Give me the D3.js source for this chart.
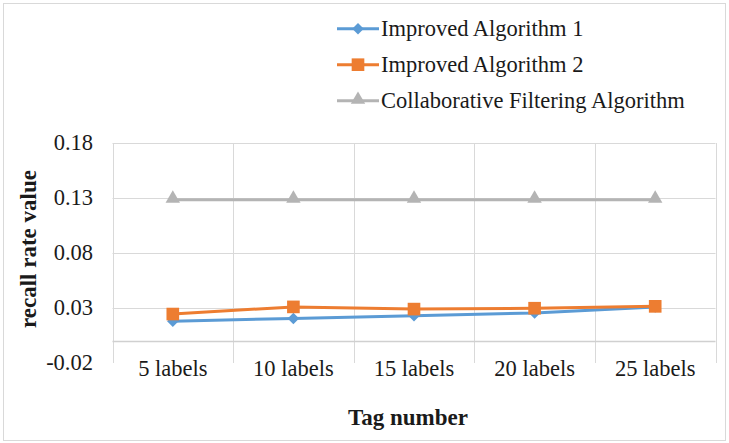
<!DOCTYPE html>
<html>
<head>
<meta charset="utf-8">
<script src="https://cdn.jsdelivr.net/npm/d3@7"></script>
<style>
  html, body { margin: 0; padding: 0; background: #fff; }
  svg { display: block; }
  svg text { font-family: "Liberation Serif", "Times New Roman", Tinos, "DejaVu Serif", serif !important; fill: #1a1a1a; }
</style>
</head>
<body>
<svg id="chart" width="729" height="443"></svg>
<script>
// Recall rate for each tag-count setting
const categories = ["5 labels", "10 labels", "15 labels", "20 labels", "25 labels"];
const improved1 = [0.018, 0.0205, 0.023, 0.0255, 0.031];
const improved2 = [0.0245, 0.031, 0.029, 0.0298, 0.0315];
const collaborative = [0.1285, 0.1285, 0.1285, 0.1285, 0.1285];
const yTicks = [-0.02, 0.03, 0.08, 0.13, 0.18];

const diamond = { draw(ctx, size) { const r = Math.sqrt(size / 2); ctx.moveTo(0, -r); ctx.lineTo(r, 0); ctx.lineTo(0, r); ctx.lineTo(-r, 0); ctx.closePath(); } };

const series = [
  { name: "Collaborative Filtering Algorithm", values: collaborative, color: "#b4b4b4", symbol: d3.symbolTriangle, size: 90, dy: -1 },
  { name: "Improved Algorithm 1", values: improved1, color: "#5b9bd5", symbol: diamond, size: 66, dy: 0 },
  { name: "Improved Algorithm 2", values: improved2, color: "#ed7d31", symbol: d3.symbolSquare, size: 160, dy: 0 }
];
const legendOrder = [1, 2, 0];

const FONT = '"Liberation Serif", "Times New Roman", Tinos, "DejaVu Serif", serif';
const FS = 22.5;
const svg = d3.select("#chart");
const W = 729, H = 443;
const plot = { left: 112.5, right: 715.5, top: 143, bottom: 363 };

// outer frame
svg.append("rect")
  .attr("x", 3.5).attr("y", 3.5)
  .attr("width", W - 7).attr("height", H - 6)
  .attr("fill", "#fff").attr("stroke", "#d9d9d9").attr("stroke-width", 1);

const x = d3.scaleBand().domain(categories).range([plot.left, plot.right]).paddingInner(0).paddingOuter(0);
const y = d3.scaleLinear().domain([-0.02, 0.18]).range([plot.bottom, plot.top]);

// horizontal gridlines
svg.append("g")
  .selectAll("line")
  .data(yTicks.filter(t => t > -0.02))
  .join("line")
  .attr("x1", plot.left).attr("x2", plot.right)
  .attr("y1", d => Math.round(y(d)) + 0.5).attr("y2", d => Math.round(y(d)) + 0.5)
  .attr("stroke", "#d9d9d9").attr("stroke-width", 1);

// vertical gridlines at category boundaries
const bounds = categories.map(c => x(c)).concat([plot.right]);
svg.append("g")
  .selectAll("line")
  .data(bounds)
  .join("line")
  .attr("x1", d => Math.round(d) + 0.5).attr("x2", d => Math.round(d) + 0.5)
  .attr("y1", plot.top).attr("y2", plot.bottom)
  .attr("stroke", "#d9d9d9").attr("stroke-width", 1);

// category axis crossing at zero
svg.append("line")
  .attr("x1", plot.left).attr("x2", plot.right)
  .attr("y1", Math.round(y(0)) + 0.5).attr("y2", Math.round(y(0)) + 0.5)
  .attr("stroke", "#d0d0d0").attr("stroke-width", 1.3);

// y axis labels (plain hyphen for negatives)
const fmt = d => (d < 0 ? "-" : "") + Math.abs(d).toFixed(2);
const yAxis = d3.axisLeft(y).tickValues(yTicks).tickFormat(fmt).tickSize(0).tickPadding(0);
const gy = svg.append("g").attr("transform", `translate(93,0)`).call(yAxis);
gy.attr("font-family", FONT);
gy.select(".domain").remove();
gy.selectAll("text").attr("font-size", FS).attr("dy", "0.28em");

// category labels below the plot
const xAxis = d3.axisBottom(x).tickSize(0).tickPadding(0);
const gx = svg.append("g").attr("transform", `translate(0,376)`).call(xAxis);
gx.attr("font-family", FONT);
gx.select(".domain").remove();
gx.selectAll("text").attr("font-size", FS).attr("y", 0).attr("dy", 0);

// axis titles
svg.append("text")
  .attr("x", 408).attr("y", 425)
  .attr("text-anchor", "middle")
  .attr("font-size", 23).attr("font-weight", "bold")
  .text("Tag number");
svg.append("text")
  .attr("transform", "translate(36,249) rotate(-90)")
  .attr("text-anchor", "middle")
  .attr("font-size", 23).attr("font-weight", "bold")
  .text("recall rate value");

// series lines and markers
const cx = c => x(c) + x.bandwidth() / 2;
const line = d3.line().x((d, i) => cx(categories[i])).y(d => y(d));

series.forEach(s => {
  const g = svg.append("g");
  g.append("path")
    .datum(s.values)
    .attr("d", line)
    .attr("fill", "none")
    .attr("stroke", s.color)
    .attr("stroke-width", 3)
    .attr("stroke-linejoin", "round");
  g.selectAll("path.m")
    .data(s.values)
    .join("path")
    .attr("class", "m")
    .attr("transform", (d, i) => `translate(${cx(categories[i])},${y(d) + s.dy})`)
    .attr("d", d3.symbol().type(s.symbol).size(s.size))
    .attr("fill", s.color);
});

// legend
const legend = svg.append("g");
legendOrder.forEach((si, row) => {
  const s = series[si];
  const base = 36 + row * 36;
  const ly = base - 7.3;
  legend.append("line")
    .attr("x1", 337).attr("x2", 379)
    .attr("y1", ly).attr("y2", ly)
    .attr("stroke", s.color).attr("stroke-width", 3);
  legend.append("path")
    .attr("transform", `translate(358,${ly + s.dy})`)
    .attr("d", d3.symbol().type(s.symbol).size(s.size))
    .attr("fill", s.color);
  legend.append("text")
    .attr("x", 381).attr("y", base)
    .attr("font-size", FS)
    .text(s.name);
});
</script>
</body>
</html>
